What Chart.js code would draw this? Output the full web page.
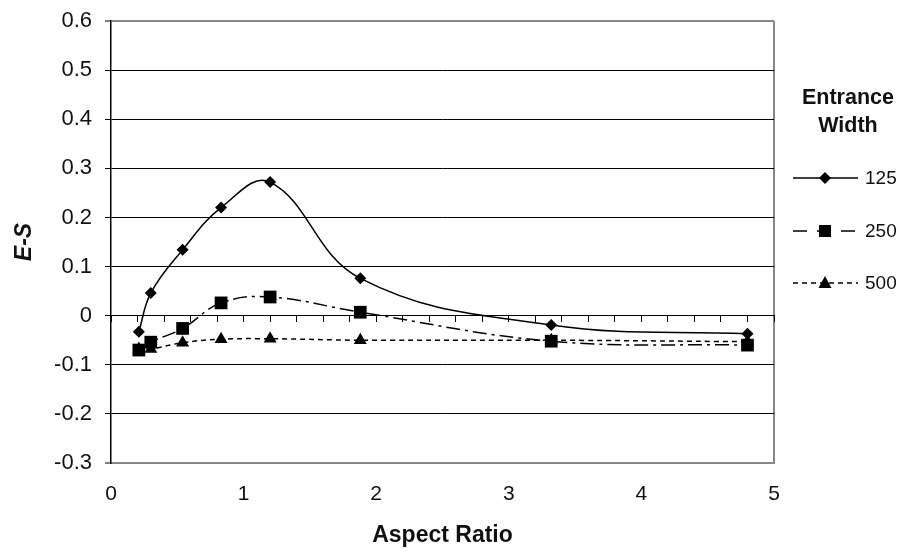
<!DOCTYPE html>
<html>
<head>
<meta charset="utf-8">
<script src="https://cdn.jsdelivr.net/npm/chart.js@4.4.1/dist/chart.umd.min.js"></script>
<style>
  body { margin: 0; background: #fff; }
  #wrap { position: relative; width: 902px; height: 557px; font-family: "Liberation Sans", Arial, sans-serif; color: #111; }
  #legendTitle { position: absolute; left: 794px; top: 83px; width: 108px; text-align: center; font-weight: bold; font-size: 21.5px; line-height: 28px; }
  .lg { position: absolute; left: 865px; font-size: 19px; line-height: 22px; }
  #legendSvg { position: absolute; left: 785px; top: 160px; }
</style>
</head>
<body>
<div id="wrap">
  <canvas id="chart" width="902" height="557"></canvas>
  <div id="legendTitle">Entrance<br>Width</div>
  <svg id="legendSvg" width="78" height="140"></svg>
  <div class="lg" style="top:167px">125</div>
  <div class="lg" style="top:220px">250</div>
  <div class="lg" style="top:272px">500</div>
</div>
<script>
// aspect ratio (x) shared by all three series
const aspectRatio = [0.21, 0.30, 0.54, 0.83, 1.2, 1.88, 3.32, 4.8];
const es125 = [-0.033, 0.046, 0.134, 0.220, 0.272, 0.076, -0.019, -0.037];
const es250 = [-0.070, -0.054, -0.026, 0.026, 0.038, 0.007, -0.052, -0.060];
const es500 = [-0.068, -0.068, -0.055, -0.048, -0.047, -0.050, -0.050, -0.053];

const seriesNames = ["125", "250", "500"];
const yTicks = [-0.3, -0.2, -0.1, 0, 0.1, 0.2, 0.3, 0.4, 0.5, 0.6];
const xTicks = [0, 1, 2, 3, 4, 5];

const FONT = "'Liberation Sans', Arial, sans-serif";

function toPoints(ys) {
  return aspectRatio.map((x, i) => ({x: x, y: ys[i]}));
}

const styles = [
  {pointStyle: "rectRot", radius: 6, dash: []},
  {pointStyle: "rect", radius: 9, dash: [14, 5, 3, 5]},
  {pointStyle: "triangle", radius: 7.5, dash: [5, 4]}
];

const datasets = [es125, es250, es500].map((ys, i) => ({
  label: seriesNames[i],
  data: toPoints(ys),
  borderColor: "#000",
  backgroundColor: "#000",
  borderWidth: 1.5,
  borderDash: styles[i].dash,
  tension: 0.4,
  pointStyle: styles[i].pointStyle,
  pointRadius: styles[i].radius,
  pointBorderWidth: 0,
  fill: false,
  xAxisID: "x",
  yAxisID: "y"
}));

new Chart(document.getElementById("chart").getContext("2d"), {
  type: "line",
  data: {datasets: datasets},
  options: {
    responsive: false,
    animation: false,
    events: [],
    layout: {padding: {left: 0, top: 21, right: 128, bottom: 0}},
    plugins: {legend: {display: false}, tooltip: {enabled: false}},
    scales: {
      x: {
        type: "linear",
        position: "bottom",
        min: 0, max: 5,
        afterBuildTicks: s => { s.ticks = xTicks.map(v => ({value: v})); },
        afterFit: s => { s.height = 94; },
        ticks: {color: "#111", font: {family: FONT, size: 21}, padding: 19},
        grid: {
          drawTicks: false,
          color: c => (c.tick && c.tick.value === 5) ? "#888" : "rgba(0,0,0,0)",
          lineWidth: 2
        },
        border: {color: "#888", width: 2},
        title: {display: true, text: "Aspect Ratio", color: "#111",
          font: {family: FONT, size: 23, weight: "bold"}, padding: {top: 0, bottom: 8}}
      },
      xz: {
        type: "linear",
        position: {y: 0},
        min: 0, max: 5,
        ticks: {display: false, stepSize: 0.2, maxTicksLimit: 40},
        grid: {drawOnChartArea: false, drawTicks: true, tickLength: 6, tickColor: "#000", tickWidth: 1},
        border: {color: "#000", width: 1}
      },
      y: {
        type: "linear",
        min: -0.3, max: 0.6,
        afterBuildTicks: s => { s.ticks = yTicks.map(v => ({value: v})); },
        afterFit: s => { s.width = 111; s.paddingTop = 0; s.paddingBottom = 0; },
        ticks: {
          color: "#111", font: {family: FONT, size: 22}, padding: 13,
          callback: v => Math.abs(v) < 1e-9 ? "0" : v.toFixed(1)
        },
        grid: {
          color: c => (c.tick && (c.tick.value === 0.6 || c.tick.value === -0.3)) ? "#888" : "#000",
          lineWidth: c => (c.tick && (c.tick.value === 0.6 || c.tick.value === -0.3)) ? 2 : 1,
          tickLength: 6, tickColor: "#000", tickWidth: 1
        },
        border: {color: "#000", width: 1.5},
        title: {display: true, text: "E-S", color: "#111",
          font: {family: FONT, size: 23, weight: "bold", style: "italic"}, padding: {top: 11, bottom: 0}}
      }
    }
  }
});

// legend samples
(function buildLegend() {
  const svg = document.getElementById("legendSvg");
  const ns = "http://www.w3.org/2000/svg";
  const rows = [18, 71, 123];
  const shapes = ["diamond", "square", "triangle"];
  const dashes = ["", "14,10", "5,4"];
  rows.forEach((cy, i) => {
    const ln = document.createElementNS(ns, "line");
    ln.setAttribute("x1", 8); ln.setAttribute("x2", 73);
    ln.setAttribute("y1", cy); ln.setAttribute("y2", cy);
    ln.setAttribute("stroke", "#000"); ln.setAttribute("stroke-width", 1.5);
    if (dashes[i]) ln.setAttribute("stroke-dasharray", dashes[i]);
    svg.appendChild(ln);
    const cx = 40;
    let m;
    if (shapes[i] === "diamond") {
      m = document.createElementNS(ns, "polygon");
      m.setAttribute("points", `${cx-6},${cy} ${cx},${cy-6} ${cx+6},${cy} ${cx},${cy+6}`);
    } else if (shapes[i] === "square") {
      m = document.createElementNS(ns, "rect");
      m.setAttribute("x", cx - 6); m.setAttribute("y", cy - 6);
      m.setAttribute("width", 12); m.setAttribute("height", 12);
    } else {
      m = document.createElementNS(ns, "polygon");
      m.setAttribute("points", `${cx-6.5},${cy+5} ${cx},${cy-7} ${cx+6.5},${cy+5}`);
    }
    m.setAttribute("fill", "#000");
    svg.appendChild(m);
  });
})();
</script>
</body>
</html>
